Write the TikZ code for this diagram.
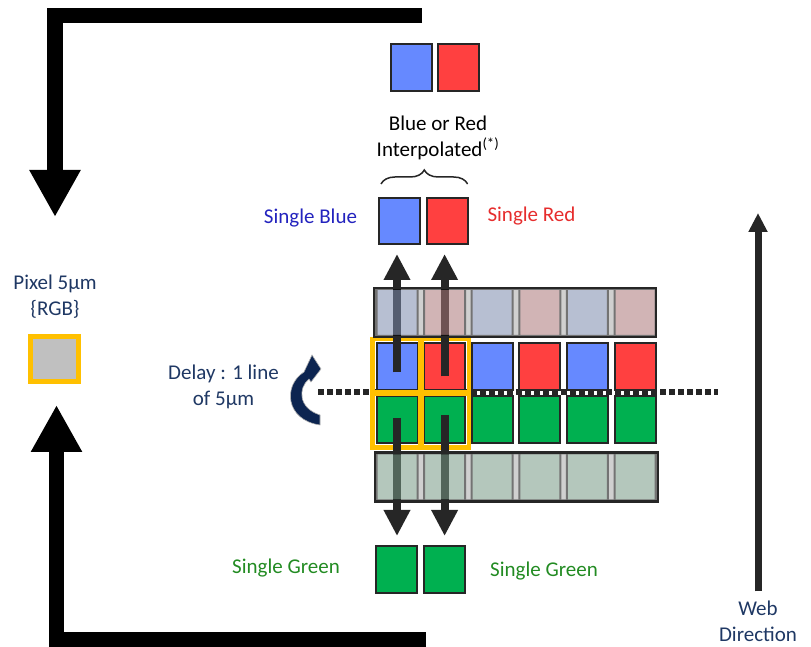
\documentclass[tikz,border=0pt]{standalone}
\usepackage{fontspec}
\setmainfont{Carlito}
\usepackage{xcolor}
\usetikzlibrary{arrows.meta,positioning,decorations.pathreplacing}

\definecolor{cblue}{RGB}{102,137,255}
\definecolor{cred}{RGB}{255,64,64}
\definecolor{cgreen}{RGB}{0,176,80}
\definecolor{gold}{RGB}{255,192,0}
\definecolor{navy}{RGB}{31,56,100}
\definecolor{deepnavy}{RGB}{12,36,80}
\definecolor{dark}{RGB}{38,38,38}
\definecolor{gapgray}{RGB}{170,170,170}
\definecolor{pixgray}{RGB}{192,192,192}
\definecolor{fblue}{RGB}{124,139,173}
\definecolor{fred}{RGB}{172,119,121}
\definecolor{fgreen}{RGB}{119,153,133}
\definecolor{lblue}{RGB}{35,35,190}
\definecolor{lred}{RGB}{230,45,45}
\definecolor{lgreen}{RGB}{34,139,34}

\begin{document}
\begin{tikzpicture}[x=1pt,y=1pt,node distance=47.6pt,
    every node/.style={font=\fontsize{21}{26}\selectfont,align=center},
    cell/.style={draw=dark,line width=2pt,minimum width=41pt,minimum height=47pt,inner sep=0pt},
    ghost/.style={cell,draw=black},
    row/.style={draw=black,line width=2pt,fill=gapgray,minimum height=47pt,inner sep=0pt},
    hl/.style={draw=gold,line width=4.5pt},
    vec/.style={draw=dark,line width=8pt,-{Triangle[length=26pt,width=25pt]}},
    big/.style={line width=15.5pt,-{Triangle[length=47pt,width=48pt]}},
    webv/.style={draw=dark,line width=7pt,-{Triangle[length=19pt,width=18pt]}}]
      \useasboundingbox (0,0) rectangle (811,647);

      \node[cell,fill=cblue]  (b1)               at (397,280.5) {};
      \node[cell,fill=cred]   (r1) [right of=b1] {};
      \node[cell,fill=cblue]  (b2) [right of=r1] {};
      \node[cell,fill=cred]   (r2) [right of=b2] {};
      \node[cell,fill=cblue]  (b3) [right of=r2] {};
      \node[cell,fill=cred]   (r3) [right of=b3] {};

      \node[cell,fill=cgreen] (g1)               at (397,227) {};
      \node[cell,fill=cgreen] (g2) [right of=g1] {};
      \node[cell,fill=cgreen] (g3) [right of=g2] {};
      \node[cell,fill=cgreen] (g4) [right of=g3] {};
      \node[cell,fill=cgreen] (g5) [right of=g4] {};
      \node[cell,fill=cgreen] (g6) [right of=g5] {};

      \coordinate (dl) at (318,255);
      \coordinate (dr) at (718,255);
      \draw[dark,line width=5.5pt,dash pattern=on 5.5pt off 3.5pt] (dl) -- (dr);

      \draw[hl] ([shift={(-3pt,3pt)}]b1.north west) rectangle ([shift={(3pt,-3pt)}]b1.south east);
      \draw[hl] ([shift={(-3pt,3pt)}]r1.north west) rectangle ([shift={(3pt,-3pt)}]r1.south east);
      \draw[hl] ([shift={(-3pt,3pt)}]g1.north west) rectangle ([shift={(3pt,-3pt)}]g1.south east);
      \draw[hl] ([shift={(-3pt,3pt)}]g2.north west) rectangle ([shift={(3pt,-3pt)}]g2.south east);

      \node[cell,fill=cblue]  (ib)               at (411,579) {};
      \node[cell,fill=cred]   (ir) [right of=ib] {};
      \node (interp) at (438,509.5) {Blue or Red\\Interpolated\textsuperscript{(*)}};

      \node[cell,fill=cblue,minimum height=46pt] (sb) at (399.5,426) {};
      \node[cell,fill=cred,minimum height=46pt]  (sr) [right of=sb] {};
      \node[text=lblue] (sbl) at (310.5,429) {Single Blue};
      \node[text=lred]  (srl) at (531.5,431) {Single Red};
      \draw[dark,line width=1.5pt,decorate,decoration={brace,amplitude=14pt}]
            ([shift={(3pt,13pt)}]sb.north west) -- ([shift={(-1pt,13pt)}]sr.north east);

      \node[cell,fill=cgreen] (sg1)                at (396.5,77.5) {};
      \node[cell,fill=cgreen] (sg2) [right of=sg1] {};
      \node[text=lgreen] (sgl) at (286,79) {Single Green};
      \node[text=lgreen] (sgr) at (544,76) {Single Green};

      \draw[vec,shorten >=9pt] ([yshift=-6pt]b1.center)  -- (b1.center |- sb.south);
      \draw[vec,shorten >=9pt] ([yshift=-10pt]r1.center) -- (r1.center |- sr.south);
      \draw[vec,shorten >=9pt] ([yshift=2pt]g1.center)   -- (g1.center |- sg1.north);
      \draw[vec,shorten >=9pt] ([yshift=5pt]g2.center)   -- (g2.center |- sg2.north);

      \begin{scope}[transparency group,opacity=0.55]
      \node[row,minimum width=280pt] (tb) at (515,334.5) {};
      \node[ghost,fill=fblue] (t1)               at (397,334.5) {};
      \node[ghost,fill=fred]  (t2) [right of=t1] {};
      \node[ghost,fill=fblue] (t3) [right of=t2] {};
      \node[ghost,fill=fred]  (t4) [right of=t3] {};
      \node[ghost,fill=fblue] (t5) [right of=t4] {};
      \node[ghost,fill=fred]  (t6) [right of=t5] {};
      \node[row,minimum width=281pt] (ub) at (516.5,170) {};
      \node[ghost,fill=fgreen] (u1)               at (397,170) {};
      \node[ghost,fill=fgreen] (u2) [right of=u1] {};
      \node[ghost,fill=fgreen] (u3) [right of=u2] {};
      \node[ghost,fill=fgreen] (u4) [right of=u3] {};
      \node[ghost,fill=fgreen] (u5) [right of=u4] {};
      \node[ghost,fill=fgreen] (u6) [right of=u5] {};
      \end{scope}
      \draw[dark,line width=2.5pt] (tb.north west) rectangle (tb.south east);
      \draw[dark,line width=2.5pt] (ub.north west) rectangle (ub.south east);

      \node[text=navy] (delay) at (223.5,260.5) {Delay : 1 line\\of 5µm};
      \fill[deepnavy,draw=gray!60,line width=0.6pt]
            (312,292) -- (321,278) -- (311,265) -- (309,268)
            .. controls (298,259) and (298,239) .. (320,232) -- (320,222)
            .. controls (285,227) and (283,262) .. (304,275) -- cycle;

      \node[text=navy] (pxl) at (55,350) {Pixel 5µm\\\{RGB\}};
      \node[draw=gold,line width=5pt,fill=pixgray,minimum width=48pt,minimum height=45pt,inner sep=0pt] (px) at (54.5,288) {};

      \draw[big] (422,631.5) -- (55,631.5) -- (55,430);
      \draw[big] (426,7.5) -- (56.5,7.5) -- (56.5,242);

      \node[text=navy,inner sep=1pt] (wd) at (758,26) {Web\\Direction};
      \coordinate (wt) at (758,434);
      \draw[webv,shorten <=8pt] (wd.north) -- (wt);
\end{tikzpicture}
\end{document}
